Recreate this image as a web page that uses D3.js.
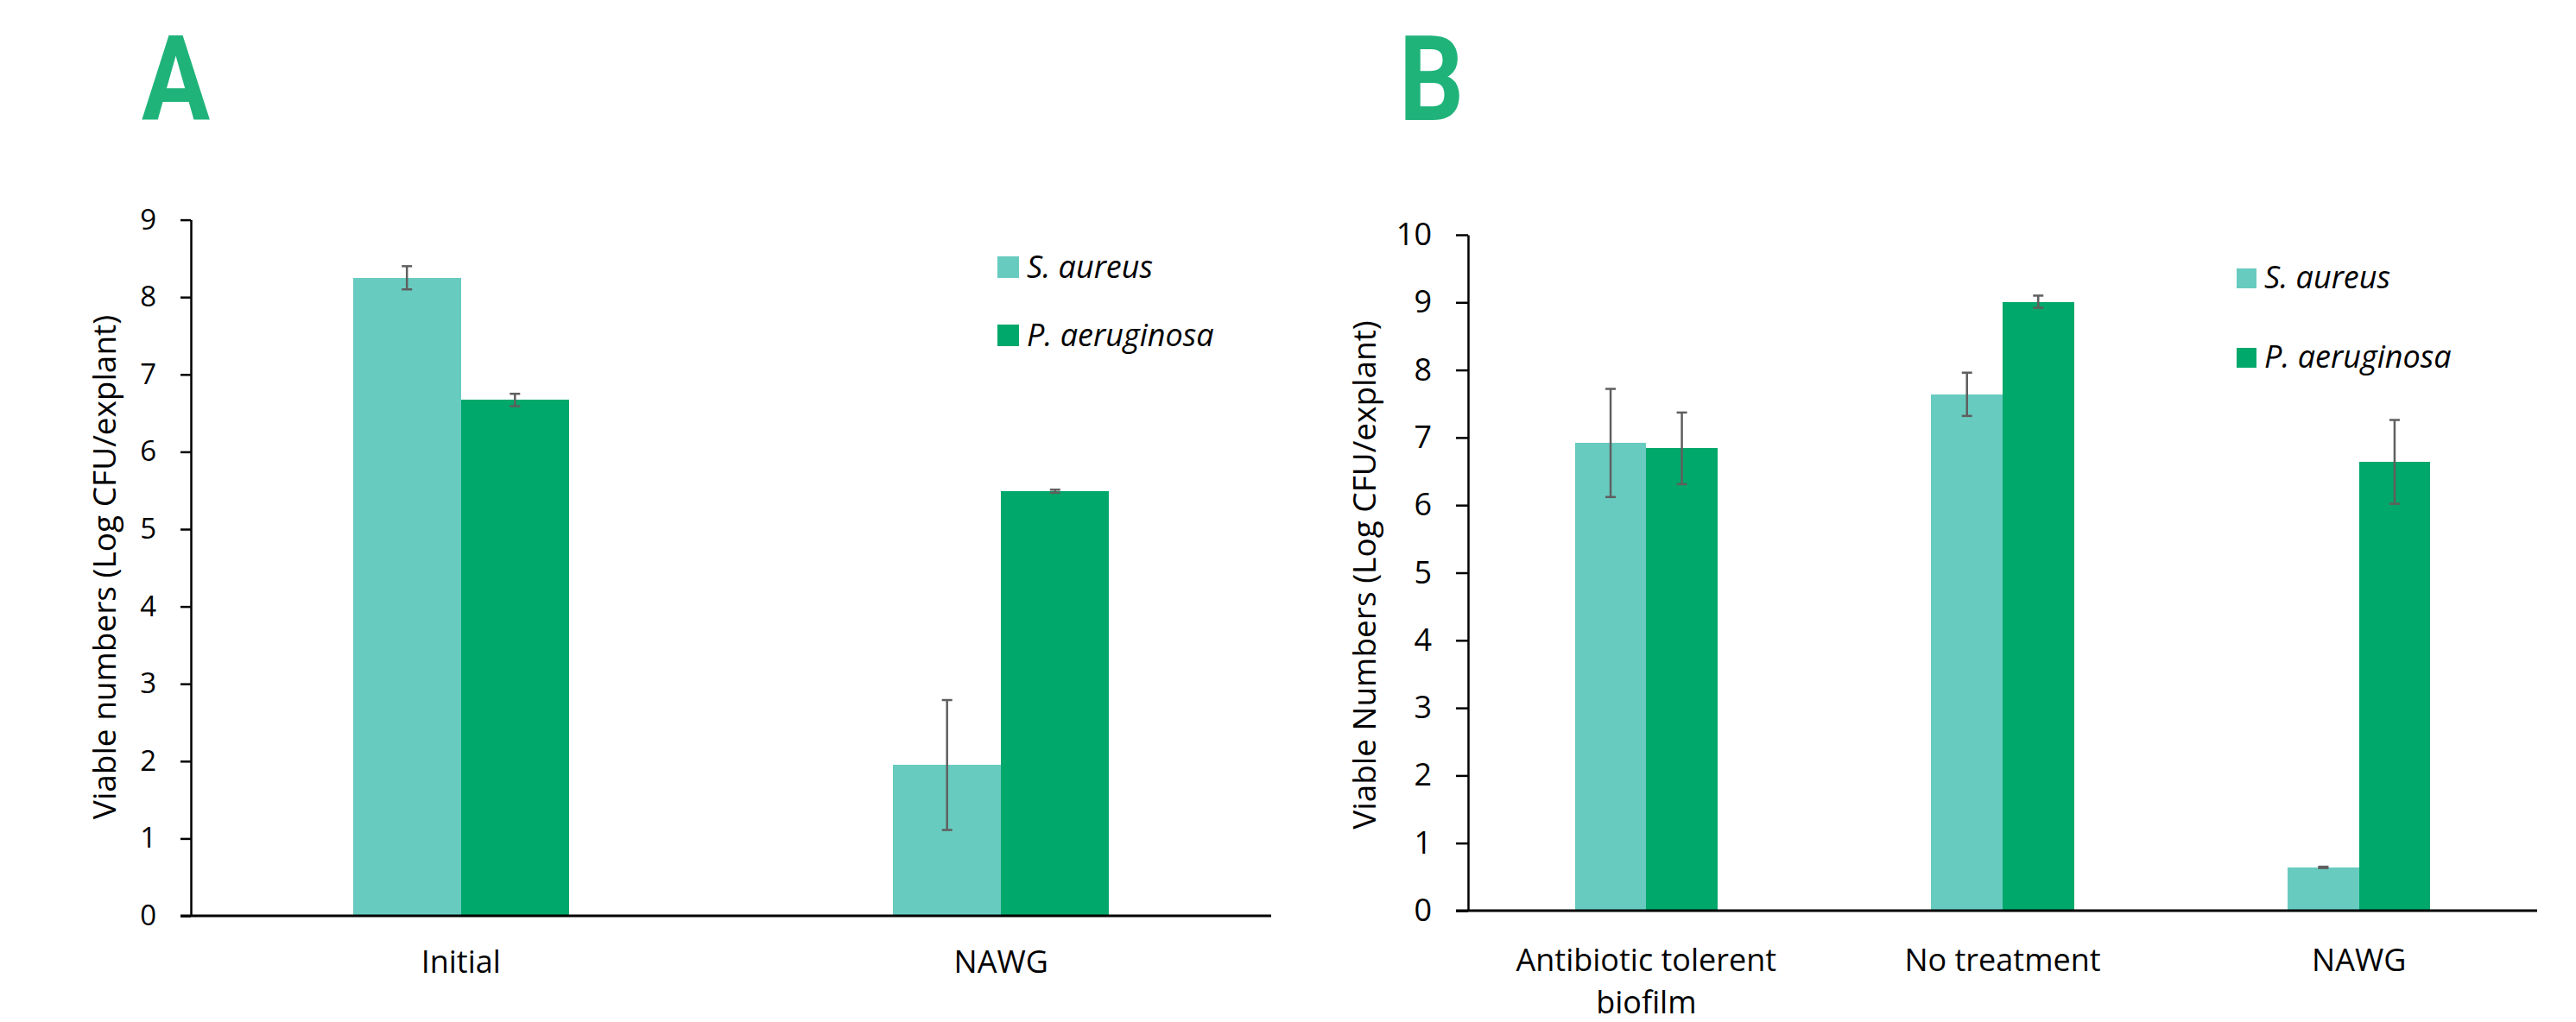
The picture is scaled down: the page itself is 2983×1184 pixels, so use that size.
<!DOCTYPE html>
<html>
<head>
<meta charset="utf-8">
<script src="https://cdn.jsdelivr.net/npm/d3@7"></script>
<style>
  body { margin: 0; background: #fff; }
  text { font-family: "Open Sans", sans-serif; fill: #000; }
</style>
</head>
<body>
<svg id="chart" width="2983" height="1184"></svg>
<script>
// series shared by both panels
const seriesNames = ["S. aureus", "P. aeruginosa"];
const seriesColors = ["#68cbc0", "#00a86b"];

// panel A
const categoriesA = ["Initial", "NAWG"];
const aureusA = [8.25, 1.95];
const aureusErrA = [0.15, 0.84];
const aeruginosaA = [6.67, 5.49];
const aeruginosaErrA = [0.08, 0.02];
const ticksA = [0, 1, 2, 3, 4, 5, 6, 7, 8, 9];

// panel B
const categoriesB = ["Antibiotic tolerent biofilm", "No treatment", "NAWG"];
const aureusB = [6.92, 7.64, 0.64];
const aureusErrB = [0.80, 0.32, 0.01];
const aeruginosaB = [6.84, 9.01, 6.64];
const aeruginosaErrB = [0.53, 0.09, 0.62];
const ticksB = [0, 1, 2, 3, 4, 5, 6, 7, 8, 9, 10];

const svg = d3.select("#chart");

function wrap(sel, width, lineH) {
  sel.each(function() {
    const text = d3.select(this);
    const words = text.text().split(/\s+/);
    text.text(null);
    let line = [];
    let tspan = text.append("tspan").attr("x", 0).attr("dy", "0.71em");
    words.forEach(w => {
      line.push(w);
      tspan.text(line.join(" "));
      if (tspan.node().getComputedTextLength() > width && line.length > 1) {
        line.pop();
        tspan.text(line.join(" "));
        line = [w];
        tspan = text.append("tspan").attr("x", 0).attr("dy", lineH + "em").text(w);
      }
    });
  });
}

function drawPanel(o) {
  const g = svg.append("g");

  const x = d3.scaleBand()
    .domain(o.categories)
    .range([o.left, o.right])
    .paddingInner(0.6)
    .paddingOuter(0.3);
  const xs = d3.scaleBand()
    .domain(seriesNames)
    .range([0, x.bandwidth()]);
  const y = d3.scaleLinear()
    .domain([0, d3.max(o.ticks)])
    .range([o.bottom, o.top]);

  const rows = o.categories.map((c, i) => ({
    cat: c,
    vals: [
      { s: seriesNames[0], v: o.aureus[i], e: o.aureusErr[i], c: seriesColors[0] },
      { s: seriesNames[1], v: o.aeruginosa[i], e: o.aeruginosaErr[i], c: seriesColors[1] }
    ]
  }));

  const groups = g.selectAll(".grp")
    .data(rows)
    .join("g")
    .attr("transform", d => `translate(${x(d.cat)},0)`);

  groups.selectAll("rect")
    .data(d => d.vals)
    .join("rect")
    .attr("x", d => xs(d.s))
    .attr("y", d => y(d.v))
    .attr("width", xs.bandwidth())
    .attr("height", d => y(0) - y(d.v))
    .attr("fill", d => d.c)
    .attr("shape-rendering", "crispEdges");

  // error bars
  const eb = groups.selectAll(".err")
    .data(d => d.vals)
    .join("g")
    .attr("stroke", "#5f5f5f")
    .attr("stroke-width", 2.5);
  eb.append("line")
    .attr("x1", d => xs(d.s) + xs.bandwidth() / 2)
    .attr("x2", d => xs(d.s) + xs.bandwidth() / 2)
    .attr("y1", d => y(d.v - d.e))
    .attr("y2", d => y(d.v + d.e));
  eb.selectAll(".cap")
    .data(d => [d.v - d.e, d.v + d.e].map(t => ({ t, cx: xs(d.s) + xs.bandwidth() / 2 })))
    .join("line")
    .attr("x1", d => d.cx - 6)
    .attr("x2", d => d.cx + 6)
    .attr("y1", d => y(d.t))
    .attr("y2", d => y(d.t));

  // y axis
  const yAxis = d3.axisLeft(y)
    .tickValues(o.ticks)
    .tickSize(o.tick)
    .tickSizeOuter(0)
    .tickPadding(28);
  const ya = g.append("g")
    .attr("transform", `translate(${o.left},0)`)
    .call(yAxis)
    .attr("font-family", null)
    .attr("font-size", null);
  ya.selectAll("path, line").attr("stroke", "#000").attr("stroke-width", 2.5);
  ya.selectAll("text").style("font-size", o.tickFont + "px");

  // x axis
  const xAxis = d3.axisBottom(x).tickSize(0).tickPadding(o.catPad);
  const xa = g.append("g")
    .attr("transform", `translate(0,${o.bottom})`)
    .call(xAxis)
    .attr("font-family", null)
    .attr("font-size", null);
  xa.select(".domain")
    .attr("d", `M${o.left - o.tick},0H${o.right}`)
    .attr("stroke", "#000")
    .attr("stroke-width", 3);
  xa.selectAll("text")
    .style("font-size", "36px")
    .call(wrap, x.step() * 0.9, 1.36);

  // y title
  g.append("text")
    .attr("transform", `translate(${o.titleX},${o.titleY}) rotate(-90)`)
    .attr("text-anchor", "middle")
    .attr("dominant-baseline", "middle")
    .style("font-size", "37px")
    .text(o.yTitle);

  // legend
  const lg = g.selectAll(".leg")
    .data(seriesNames)
    .join("g")
    .attr("transform", (d, i) => `translate(${o.legX},${o.legY + i * o.legGap})`);
  lg.append("rect")
    .attr("width", o.legSq)
    .attr("height", o.legSq)
    .attr("fill", (d, i) => seriesColors[i]);
  lg.append("text")
    .attr("x", o.legSq + 9)
    .attr("y", o.legSq)
    .style("font-size", "36px")
    .style("font-style", "italic")
    .text(d => d);

  // panel letter
  g.append("text")
    .attr("transform", `translate(${o.letterX},139) scale(0.86,1)`)
    .style("font-family", "Roboto, sans-serif")
    .style("font-weight", 700)
    .style("font-size", "137px")
    .style("fill", "#1fb37a")
    .text(o.letter);
}

drawPanel({
  letter: "A", letterX: 164,
  categories: categoriesA,
  aureus: aureusA, aureusErr: aureusErrA,
  aeruginosa: aeruginosaA, aeruginosaErr: aeruginosaErrA,
  ticks: ticksA,
  left: 221, right: 1472, top: 254.6, bottom: 1061,
  tick: 12, tickFont: 33, catPad: 40,
  yTitle: "Viable numbers (Log CFU/explant)", titleX: 124, titleY: 657,
  legX: 1155, legY: 297, legGap: 79, legSq: 25
});

drawPanel({
  letter: "B", letterX: 1620,
  categories: categoriesB,
  aureus: aureusB, aureusErr: aureusErrB,
  aeruginosa: aeruginosaB, aeruginosaErr: aeruginosaErrB,
  ticks: ticksB,
  left: 1700, right: 2938, top: 272, bottom: 1055,
  tick: 14, tickFont: 36, catPad: 44,
  yTitle: "Viable Numbers (Log CFU/explant)", titleX: 1583, titleY: 666,
  legX: 2590, legY: 311, legGap: 92, legSq: 23
});
</script>
</body>
</html>
